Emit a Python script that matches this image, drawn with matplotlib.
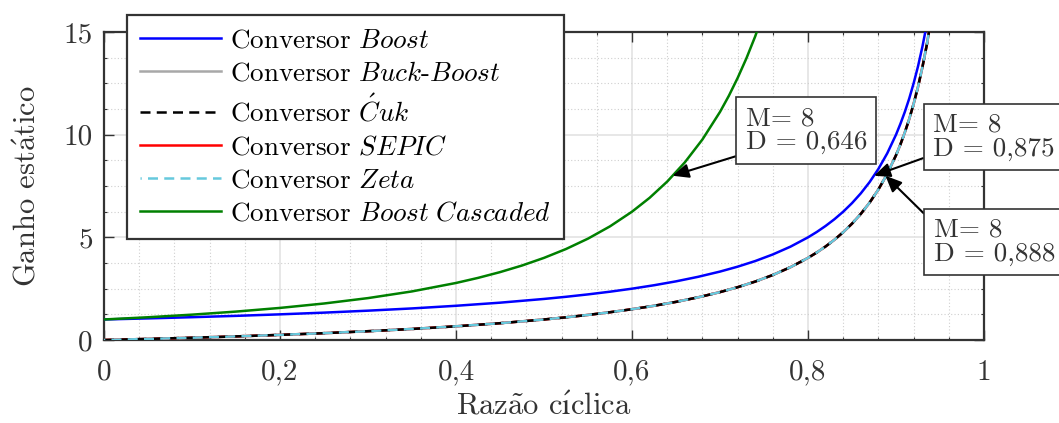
import matplotlib
matplotlib.use("Agg")
import matplotlib.pyplot as plt
from matplotlib.ticker import MultipleLocator

# ---------------------------------------------------------------------------- #
# Data

# duty cycle points, shared by Boost / Buck-Boost / Cuk / SEPIC / Zeta
D = [0, 0.05, 0.1, 0.15, 0.2, 0.25, 0.3, 0.35, 0.4, 0.45, 0.5,
     0.525, 0.55, 0.575, 0.6, 0.625, 0.65, 0.675, 0.7,
     0.72, 0.74, 0.76, 0.78, 0.8,
     0.81, 0.82, 0.83, 0.84, 0.85, 0.86, 0.87, 0.88, 0.89, 0.9,
     0.905, 0.91, 0.915, 0.92, 0.925, 0.93, 0.935, 0.94]

M_boost = [1.000, 1.053, 1.111, 1.176, 1.250, 1.333, 1.429, 1.538, 1.667, 1.818, 2.000,
           2.105, 2.222, 2.353, 2.500, 2.667, 2.857, 3.077, 3.333,
           3.571, 3.846, 4.167, 4.545, 5.000,
           5.263, 5.556, 5.882, 6.250, 6.667, 7.143, 7.692, 8.333, 9.091, 10.00,
           10.53, 11.11, 11.76, 12.50, 13.33, 14.29, 15.38, 16.67]

M_buckboost = [0.000, 0.053, 0.111, 0.176, 0.250, 0.333, 0.429, 0.538, 0.667, 0.818, 1.000,
               1.105, 1.222, 1.353, 1.500, 1.667, 1.857, 2.077, 2.333,
               2.571, 2.846, 3.167, 3.545, 4.000,
               4.263, 4.556, 4.882, 5.250, 5.667, 6.143, 6.692, 7.333, 8.091, 9.000,
               9.526, 10.11, 10.76, 11.50, 12.33, 13.29, 14.38, 15.67]
M_cuk = M_buckboost
M_sepic = M_buckboost
M_zeta = M_buckboost

# boost cascaded runs out of the plot earlier
D_casc = [0, 0.05, 0.1, 0.15, 0.2, 0.25, 0.3, 0.35, 0.4,
          0.425, 0.45, 0.475, 0.5, 0.525, 0.55, 0.575, 0.6,
          0.62, 0.64, 0.66, 0.68, 0.7, 0.71, 0.72, 0.73, 0.74, 0.75]
M_casc = [1.000, 1.108, 1.235, 1.384, 1.563, 1.778, 2.041, 2.367, 2.778,
          3.025, 3.306, 3.628, 4.000, 4.432, 4.938, 5.536, 6.250,
          6.925, 7.716, 8.651, 9.766, 11.11, 11.89, 12.76, 13.72, 14.79, 16.00]

# marked points (D, M) and their text
mark_D = [0.646, 0.875, 0.888]
mark_M = [8, 8, 8]
mark_txt = ['M= 8\nD = 0,646', 'M= 8\nD = 0,875', 'M= 8\nD = 0,888']

xticks = [0, 0.2, 0.4, 0.6, 0.8, 1]
xticklabels = ['0', '0,2', '0,4', '0,6', '0,8', '1']
yticks = [0, 5, 10, 15]
yticklabels = ['0', '5', '10', '15']

# ---------------------------------------------------------------------------- #
# Style (MATLAB / LaTeX look)

plt.rcParams['font.family'] = 'serif'
plt.rcParams['font.serif'] = ['cmr10']
plt.rcParams['mathtext.fontset'] = 'cm'
plt.rcParams['axes.unicode_minus'] = False
plt.rcParams['axes.formatter.use_mathtext'] = True

dark = '#333333'
lw = 1.8

fig = plt.figure(figsize=(10.59, 4.23), dpi=100)
ax = fig.add_axes([0.0982, 0.1962, 0.9292 - 0.0982, 0.9243 - 0.1962])

ax.plot(D, M_buckboost, color='#a8a8a8', lw=lw, label=r'Conversor $\mathit{Buck}$-$\mathit{Boost}$', zorder=3)
ax.plot(D, M_sepic, color='red', lw=lw, label=r'Conversor $\mathit{SEPIC}$', zorder=3)
ax.plot(D, M_cuk, color='black', lw=lw, ls=(0, (4, 2.5)), label=r'Conversor $\acute{C}\mathit{uk}$', zorder=3)
ax.plot(D, M_zeta, color='#66c9dd', lw=lw, ls=(3.5, (4, 2.5)), label=r'Conversor $\mathit{Zeta}$', zorder=3)
ax.plot(D, M_boost, color='blue', lw=lw, label=r'Conversor $\mathit{Boost}$', zorder=3)
ax.plot(D_casc, M_casc, color='#008000', lw=lw, label=r'Conversor $\mathit{Boost\ Cascaded}$', zorder=3)

ax.set_xlim(0, 1)
ax.set_ylim(0, 15)
ax.set_xticks(xticks)
ax.set_xticklabels(xticklabels)
ax.set_yticks(yticks)
ax.set_yticklabels(yticklabels)
ax.xaxis.set_minor_locator(MultipleLocator(0.04))
ax.yaxis.set_minor_locator(MultipleLocator(1.25))

ax.tick_params(which='both', direction='in', top=True, right=True, colors=dark)
ax.tick_params(which='major', length=7, width=1.0, labelsize=21)
ax.tick_params(which='minor', length=2, width=0.8)
ax.tick_params(axis='x', which='major', pad=14)
ax.tick_params(axis='y', which='major', pad=8)

ax.grid(which='major', color='#e3e3e3', lw=1.2, ls='-')
ax.grid(which='minor', color='#cfcfcf', lw=0.8, ls=(0, (1, 2)))
ax.set_axisbelow(True)
for s in ax.spines.values():
    s.set_color(dark)
    s.set_linewidth(1.6)

ax.set_xlabel(r'Raz$\tilde{\mathrm{a}}$o c$\acute{\mathrm{ı}}$clica', fontsize=22, color=dark, labelpad=4)
ax.set_ylabel(r'Ganho est$\acute{\mathrm{a}}$tico', fontsize=22, color=dark, labelpad=16)

# legend order as in the chart
h, l = ax.get_legend_handles_labels()
order = [4, 0, 2, 1, 3, 5]
leg = ax.legend([h[i] for i in order], [l[i] for i in order],
                loc='upper left', bbox_to_anchor=(0.0258, 1.055), borderaxespad=0,
                fontsize=19.5, handlelength=3.0, handletextpad=0.3,
                labelspacing=0.33, borderpad=0.5, fancybox=False,
                framealpha=1, edgecolor=dark)
leg.get_frame().set_linewidth(1.6)
leg.set_zorder(10)

# annotation boxes
txt_xy = [(0.729, 11.37), (0.942, 11.06), (0.943, 5.94)]
relpos = [(0.0, 0.02), (0.0, 0.125), (0.0, 0.89)]
for i in range(3):
    ax.annotate(mark_txt[i], xy=(mark_D[i], mark_M[i]), xytext=txt_xy[i],
                textcoords='data', ha='left', va='top', fontsize=19.5,
                linespacing=1.0, color=dark, annotation_clip=False, zorder=11,
                bbox=dict(boxstyle='square,pad=0.35', fc='white', ec=dark, lw=1.2),
                arrowprops=dict(arrowstyle='-|>,head_length=0.5,head_width=0.22',
                                color='black', lw=1.5, shrinkA=0, shrinkB=0,
                                relpos=relpos[i]))

fig.savefig('out.png', dpi=100)
